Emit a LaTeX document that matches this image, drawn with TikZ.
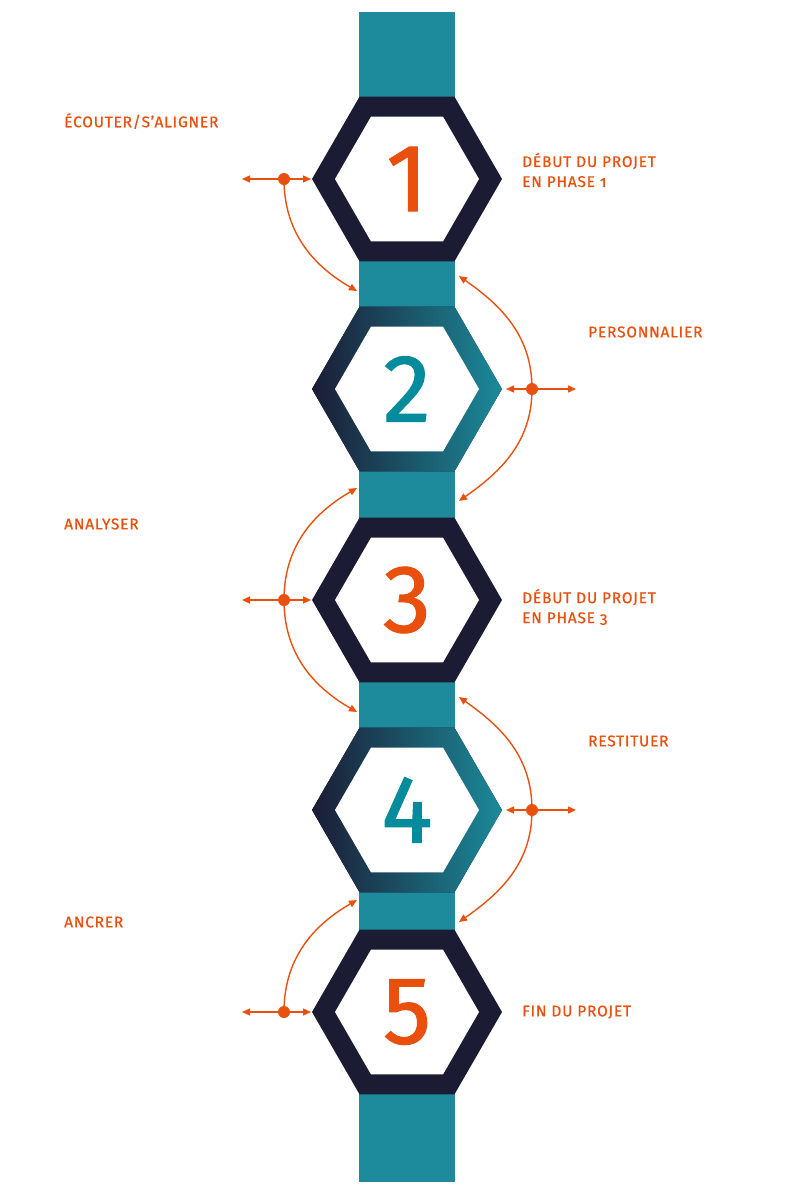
\documentclass[tikz,border=0pt]{standalone}
\usepackage{fontspec}
\setmainfont{Fira Sans}
\newfontfamily\labelfont[Numbers=OldStyle,LetterSpace=5,FakeBold=0.6]{Fira Sans}
\newfontfamily\numfont[FakeBold=1.2]{Fira Sans}
\usetikzlibrary{shapes.geometric,arrows.meta}
\definecolor{navy}{HTML}{1B1C34}
\definecolor{barteal}{HTML}{1E8B9D}
\definecolor{gradteal}{HTML}{1B8A9A}
\definecolor{numteal}{HTML}{048C9C}
\definecolor{orng}{HTML}{E9500E}
\tikzset{
  hexout/.style={regular polygon,regular polygon sides=6,minimum size=190pt,inner sep=0pt,fill=navy},
  hexgrad/.style={hexout,left color=navy,right color=gradteal},
  hexin/.style={regular polygon,regular polygon sides=6,minimum size=144pt,inner sep=0pt,fill=white,font=\numfont\fontsize{96}{96}\selectfont},
  dot/.style={circle,fill=orng,minimum size=12pt,inner sep=0pt},
  lbl/.style={anchor=west,inner sep=0pt,text=orng,font=\labelfont\fontsize{15.5}{20}\selectfont,align=left},
  link/.style={orng,line width=1.4pt,-{Triangle[length=8pt,width=7pt]}}
}
\begin{document}
\begin{tikzpicture}[x=1pt,y=1pt]
    \useasboundingbox (0,0) rectangle (804,-1192);
    \fill[barteal] (359,-12) rectangle (455,-1182);
    % hexagons
    \node[hexout] (h1) at (407,-179) {};
    \node[hexin,text=orng] (n1) at (h1) {1};
    \node[hexgrad] (h2) at (407,-389) {};
    \node[hexin,text=numteal] (n2) at (h2) {2};
    \node[hexout] (h3) at (407,-600) {};
    \node[hexin,text=orng] (n3) at (h3) {3};
    \node[hexgrad] (h4) at (407,-810) {};
    \node[hexin,text=numteal] (n4) at (h4) {4};
    \node[hexout] (h5) at (407,-1012) {};
    \node[hexin,text=orng] (n5) at (h5) {5};
    % labels
    \node[lbl] (t1) at (64,-121) {ÉCOUTER/S’ALIGNER};
    \node[lbl] (p1) at (522,-170) {DÉBUT DU PROJET\\EN PHASE 1};
    \node[lbl] (t2) at (588,-332) {PERSONNALIER};
    \node[lbl] (t3) at (64,-524) {ANALYSER};
    \node[lbl] (p3) at (522,-607) {DÉBUT DU PROJET\\EN PHASE 3};
    \node[lbl] (t4) at (588,-741) {RESTITUER};
    \node[lbl] (t5) at (64,-922) {ANCRER};
    \node[lbl] (p5) at (522,-1012) {FIN DU PROJET};
    % dots and ends
    \node[dot] (d1) at (284,-179) {};
    \node[dot] (d2) at (532,-389) {};
    \node[dot] (d3) at (284,-600) {};
    \node[dot] (d4) at (532,-810) {};
    \node[dot] (d5) at (284,-1012) {};
    \coordinate (l1) at (242,-179); \coordinate (r1) at (311,-179);
    \coordinate (l2) at (506,-389); \coordinate (r2) at (576,-389);
    \coordinate (l3) at (242,-600); \coordinate (r3) at (311,-600);
    \coordinate (l4) at (506,-810); \coordinate (r4) at (576,-810);
    \coordinate (l5) at (242,-1012); \coordinate (r5) at (311,-1012);
    \coordinate (a1) at (357,-291);
    \coordinate (a2) at (459,-276); \coordinate (b2) at (459,-501);
    \coordinate (a3) at (357,-488); \coordinate (b3) at (357,-712);
    \coordinate (a4) at (459,-697); \coordinate (b4) at (459,-922);
    \coordinate (a5) at (357,-900);
    \draw[link] (d1) -- (l1); \draw[link] (d1) -- (r1);
    \draw[link] (d2) -- (l2); \draw[link] (d2) -- (r2);
    \draw[link] (d3) -- (l3); \draw[link] (d3) -- (r3);
    \draw[link] (d4) -- (l4); \draw[link] (d4) -- (r4);
    \draw[link] (d5) -- (l5); \draw[link] (d5) -- (r5);
    \draw[link] (d1.center) to[out=-90,in=150] (a1);
    \draw[link] (d2.center) to[out=90,in=-35] (a2);
    \draw[link] (d2.center) to[out=-90,in=35] (b2);
    \draw[link] (d3.center) to[out=90,in=-150] (a3);
    \draw[link] (d3.center) to[out=-90,in=150] (b3);
    \draw[link] (d4.center) to[out=90,in=-35] (a4);
    \draw[link] (d4.center) to[out=-90,in=35] (b4);
    \draw[link] (d5.center) to[out=90,in=-150] (a5);
\end{tikzpicture}
\end{document}
